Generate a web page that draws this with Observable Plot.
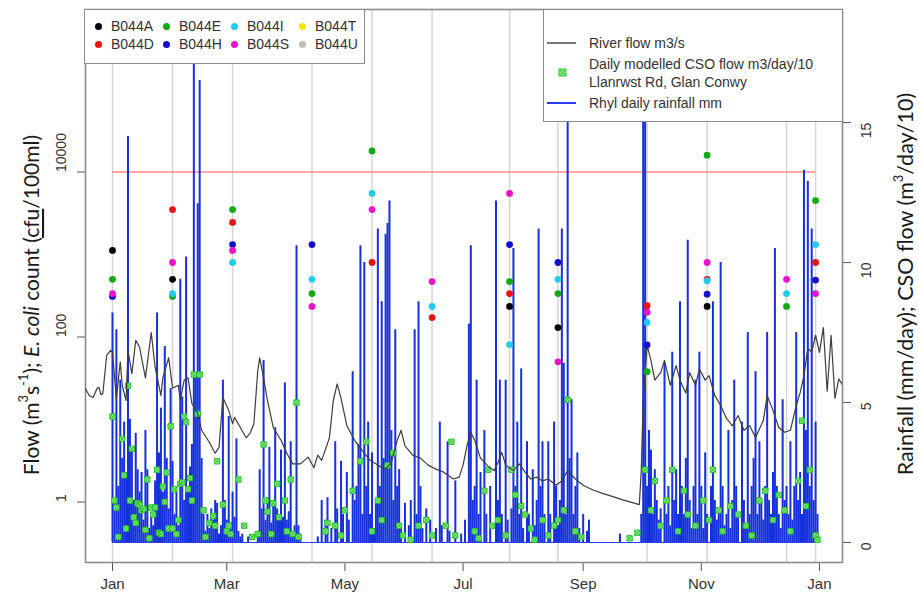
<!DOCTYPE html>
<html><head><meta charset="utf-8">
<script src="https://cdn.jsdelivr.net/npm/d3@7"></script>
<script src="https://cdn.jsdelivr.net/npm/@observablehq/plot@0.6"></script>
<style>
body{margin:0;background:#fff;}
#chart{position:relative;width:919px;height:600px;overflow:hidden;font-family:"Liberation Sans",Arial,sans-serif;}
#chart > svg{position:absolute;left:0;top:0;}
.legend{position:absolute;background:#fff;border:1.5px solid #8c8c8c;box-sizing:border-box;font-size:14px;color:#333;}
.legend .it{position:absolute;white-space:nowrap;line-height:16px;}
.legend .dot{position:absolute;width:7px;height:7px;border-radius:50%;}
</style></head><body><div id="chart"></div>
<script>
// ---------- data (day offsets from 1 Jan of the year) ----------
const YEAR = 2015;
const sites = ["B044A","B044D","B044E","B044H","B044I","B044S","B044T","B044U"];
const siteColors = ["#000000","#ee1111","#11aa11","#1111cc","#22ccee","#ee11cc","#f2e600","#bdbdbd"];
const sampleDays = [0, 31, 62, 103, 134, 165, 205, 230, 276, 307, 348, 363];
const B044A = [1120, 500, null, null, null, null, 235, 130, null, 235, null, null];
const B044D = [null, 3500, 2450, null, 800, 172, 336, null, 240, 500, null, 800];
const B044E = [500, 310, 3500, 336, 18000, null, 470, 336, 38, 16000, 235, 4500];
const B044H = [310, null, 1320, 1320, null, null, 1320, 800, 80, 330, null, 490];
const B044I = [null, 336, 800, 500, 5500, 235, 81, 500, 150, 480, 336, 1320];
const B044S = [336, 800, 1120, 235, 3500, 470, 5500, 50, 200, 800, 500, 336];
const B044T = [null, null, null, null, null, null, null, null, null, null, null, null];
const B044U = [null, null, null, null, null, null, null, null, null, null, null, null];
const ecoliLimit = 10000;

const flowDay = [-14,-12,-10,-8,-7,-6,-5,-3,-1,0,2,4,5,7,8,10,12,14,17,20,22,25,26,29,31,34,35,37,39,41,44,46,50,53,55,57,60,62,63,66,69,71,73,75,76,78,80,83,87,90,93,97,101,104,106,108,112,
 114,116,118,121,125,129,133,137,141,144,147,149,151,155,159,163,167,171,176,179,181,183,185,187,190,194,197,199,201,203,207,210,213,216,219,222,225,229,232,235,239,243,248,253,258,263,268,272,273,274,276,278,280,283,285,288,291,293,296,298,301,303,306,308,311,314,317,320,323,326,329,332,336,338,341,344,347,350,353,355,357,359,361,363,365,367,369,371,373,375,377];
const flowValue = [23.8,19.5,18.5,23.8,24.5,20,20.5,60,69,65,18,50,26,17,69,36,91,75,32,113,43,19.5,32,56,24,26,17,30,32,15.6,11.8,7.4,5.3,3.9,4.6,18.5,12.9,8.9,10.6,8.0,6.0,6.8,8.9,39,56,32,17,8.0,5.6,3.9,2.9,2.9,3.5,2.6,3.7,3.2,6.0,
 17,27,18,8.4,5.6,4.2,3.2,2.8,2.5,3.0,5.6,7.4,4.8,3.7,3.4,2.8,2.5,2.3,1.9,2.0,2.8,4.8,7.0,5.6,3.4,2.7,2.4,3.0,4.0,2.8,2.4,2.9,2.3,1.9,2.0,1.8,1.9,1.6,1.8,2.4,1.9,1.6,1.4,1.27,1.17,1.07,0.99,0.93,2.4,17,79,52,30,37,52,26,45,30,21,37,26,41,30,34,19.5,14.8,10.3,8.4,11.2,7.4,8.4,6.0,9.7,19.5,12.9,8.0,7.0,7.4,14.8,21,34,73,65,105,65,130,22,105,18,31,26];

const rainDay = [0,1,2,3,4,5,6,7,8,9,10,11,12,13,14,15,16,17,18,19,20,21,22,23,24,25,26,27,28,29,30,31,32,33,34,35,36,37,38,39,40,41,42,43,44,45,46,47,48,49,50,51,52,53,54,55,56,57,58,59,60,61,62,63,64,65,66,67,70,75,76,77,78,79,80,81,82,83,84,85,86,87,88,89,90,91,92,93,94,95,96,97,106,108,110,111,113,
 115,116,118,119,121,122,124,125,126,127,128,129,130,131,132,133,134,135,136,137,138,139,140,141,142,143,144,145,146,147,148,149,151,153,154,156,157,158,159,160,162,164,167,169,170,173,174,177,180,182,184,185,186,187,188,189,190,192,193,195,198,199,200,201,203,204,206,207,208,209,210,211,212,214,215,217,218,219,220,221,222,223,225,226,228,229,230,231,232,233,234,235,236,237,238,239,240,241,243,245,246,262,
 273,274,275,276,277,278,279,280,281,282,283,285,286,287,288,289,290,291,292,293,294,295,296,297,298,299,300,301,302,303,304,305,306,307,309,310,311,312,313,314,315,316,317,318,319,320,321,322,323,325,326,327,328,329,330,331,332,333,334,335,336,337,338,339,340,341,342,343,344,345,346,347,348,349,350,351,352,353,354,355,356,357,358,359,360,361,362,363,364];
const rainMm = [8.2,1.5,7.6,2.0,5.8,3.0,4.3,2.5,14.5,4.4,3.4,1.5,3.9,2.6,1.8,2.5,0.8,4.0,2.6,0.5,1.0,0.6,2.2,8.2,3.2,4.8,1.8,7.0,3.0,1.2,5.5,2.9,1.0,1.8,0.6,9.4,5.2,1.5,10.2,2.0,2.7,3.5,17.1,6.0,12.1,16.5,3.0,1.0,0.4,1.0,0.5,1.2,0.8,1.5,1.4,0.3,0.6,5.8,1.5,0.8,4.5,0.7,1.8,0.9,3.7,0.4,0.2,0.3,0.2,0.4,2.6,1.2,6.5,0.8,1.6,3.4,0.7,1.5,4.1,1.2,1.0,3.3,0.9,5.7,0.8,1.1,3.6,0.3,0.6,10.6,0.6,0.3,0.2,1.5,0.8,1.6,0.5,
 3.6,1.2,2.9,1.0,2.5,0.8,6.1,1.5,2.0,3.5,10.6,1.0,10.0,2.0,4.3,1.0,3.2,0.5,1.5,11.2,2.0,8.6,3.0,11.0,11.4,12.2,4.0,1.5,7.6,2.0,2.6,0.5,1.4,0.6,1.5,7.6,1.0,8.6,2.0,0.5,1.2,0.8,0.5,4.3,0.6,3.6,0.4,2.2,0.3,0.8,7.8,10.6,1.5,2.0,5.8,1.0,2.5,4.0,1.0,2.0,12.2,1.5,5.8,1.0,5.8,0.8,1.2,10.5,2.0,4.3,1.0,6.2,0.5,3.6,1.0,2.6,0.6,1.5,11.2,2.0,3.6,1.0,3.6,1.0,4.3,2.0,0.6,1.5,11.2,6.4,1.0,25,3.0,5.1,1.0,2.0,3.2,0.5,1.0,0.4,0.8,0.3,
 1.0,25,16,2.0,4.0,3.3,1.0,2.6,1.5,0.8,1.2,6.4,1.0,2.0,0.6,6.8,1.5,2.6,1.0,8.6,2.0,1.0,3.0,10.8,1.5,0.5,2.0,5.8,1.0,6.8,2.0,0.5,3.2,1.0,2.0,8.6,1.5,0.8,1.2,10.0,2.0,0.6,1.0,4.0,0.5,1.5,5.8,2.0,1.0,4.3,1.5,0.5,7.5,1.0,2.0,3.0,6.1,1.0,3.6,1.5,0.8,2.0,7.5,1.5,1.0,2.5,10.5,2.0,1.0,0.5,5.1,1.5,2.0,1.0,3.6,0.8,2.0,7.5,1.5,2.5,1.0,13.3,4.0,12.9,2.0,11.2,1.5,4.3,1.0];

const csoDay = [0,1,2,3,5,6,7,8,9,10,11,12,13,14,15,16,17,18,19,20,21,22,23,24,25,26,27,28,29,30,31,32,33,34,35,36,37,38,39,40,41,42,44,45,47,48,50,52,53,54,57,59,60,61,65,68,72,75,78,79,80,82,83,85,86,89,90,92,93,95,96,110,111,
 115,118,120,124,128,131,134,137,139,142,145,148,150,154,158,162,165,172,175,177,187,189,192,194,196,199,203,206,208,211,213,216,218,222,225,228,230,233,235,239,242,267,271,275,278,280,283,286,289,292,295,297,301,305,308,310,313,315,319,323,327,330,334,337,341,344,347,350,354,356,358,360,363,364];
const csoValue = [4.5,1.5,1.25,0.2,3.7,2.4,0.5,5.6,1.5,3.35,0.9,0.7,1.4,1.35,1.15,1.2,0.45,2.25,0.15,1.25,1.0,1.25,2.6,0.35,0.3,2.0,1.45,2.5,0.5,4.15,0.5,1.9,0.3,0.8,2.1,2.15,4.5,4.3,1.9,2.3,1.5,6.0,4.6,6.0,1.15,0.2,0.7,0.95,0.6,2.9,1.35,0.4,0.6,0.3,2.25,0.6,0.2,0.3,3.5,1.5,1.1,0.3,1.4,2.1,0.9,1.5,0.4,2.25,0.3,5.0,0.2,0.4,0.7,
 0.6,0.25,1.15,1.85,2.9,3.6,0.4,1.5,0.8,2.75,3.2,0.6,0.25,0.1,0.6,0.8,0.25,0.6,3.6,0.25,0.4,0.15,1.85,2.6,0.6,0.8,0.25,2.6,1.7,1.3,1.0,0.5,0.1,0.8,0.25,0.6,0.8,1.15,5.1,0.4,0.2,0.15,0.35,2.6,1.15,2.2,0.6,1.5,2.6,0.4,1.85,1.0,0.6,1.5,0.8,2.6,1.15,0.4,1.3,1.0,0.6,0.25,1.5,1.85,0.8,1.7,1.15,0.4,2.2,4.35,1.3,2.6,0.25,0.1];

const xTickDays = [0, 59, 120, 181, 243, 304, 365];
const leftTicks = [1, 100, 10000];
const rightTicks = [0, 5, 10, 15];

// ---------- build tables ----------
const t0 = Date.UTC(YEAR, 0, 1);
const toDate = d => new Date(t0 + d * 864e5);
const siteValues = [B044A, B044D, B044E, B044H, B044I, B044S, B044T, B044U];
const samples = [];
siteValues.forEach((vals, s) => vals.forEach((v, i) => { if (v != null) samples.push({date: toDate(sampleDays[i]), value: v, site: sites[s]}); }));
const flow = flowDay.map((d, i) => ({date: toDate(d), value: flowValue[i]}));
const rain = rainDay.map((d, i) => ({date: toDate(d), value: rainMm[i]}));
const cso = csoDay.map((d, i) => ({date: toDate(d), value: csoValue[i]}));
const sampleDates = sampleDays.map(toDate);
const first = sampleDates[0], last = sampleDates[sampleDates.length - 1];

const W = 919, H = 600, ML = 85, MR = 77, MT = 9, MB = 38;
const xDomain = [toDate(-13.94), toDate(376.9)];
const logDomain = [0.1848, 932600];
const linDomain = [-0.714, 19.04];
const base = {width: W, height: H, marginLeft: ML, marginRight: MR, marginTop: MT, marginBottom: MB,
  style: {background: "none", fontFamily: "Liberation Sans, Arial, sans-serif", fontSize: "14px", color: "#333", overflow: "visible"}};
const colorScale = {domain: sites, range: siteColors};

const layer1 = Plot.plot({...base, x: {type: "utc", domain: xDomain}, y: {type: "log", domain: logDomain}, color: colorScale,
  marks: [
    Plot.ruleX(sampleDates, {stroke: "#d6d6d6", strokeWidth: 1.5}),
    Plot.ruleY([{y: ecoliLimit, x1: first, x2: last}], {y: "y", x1: "x1", x2: "x2", stroke: "#ff6b6b", strokeOpacity: 0.6, strokeWidth: 2.2}),
    Plot.axisY({ticks: leftTicks, tickSize: 8, tickFormat: () => "", stroke: "#555", label: null}),
    Plot.text(leftTicks, {y: d => d, text: d => String(d), frameAnchor: "left", dx: -24, rotate: -90, fontSize: 14, fill: "#333"}),
    Plot.axisX({ticks: xTickDays.map(toDate), tickFormat: d3.utcFormat("%b"), tickSize: 9, tickPadding: 7, fontSize: 15, stroke: "#555", fill: "#333", label: null}),
    Plot.frame({stroke: "#8c8c8c", strokeWidth: 1.6})
  ]});

const layer2 = Plot.plot({...base, x: {type: "utc", domain: xDomain, axis: null}, y: {domain: linDomain, axis: null},
  marks: [
    Plot.ruleY([{y: 0, x1: toDate(0), x2: toDate(363)}], {y: "y", x1: "x1", x2: "x2", stroke: "#2a3cf0", strokeWidth: 1}),
    Plot.ruleX(rain, {x: "date", y1: 0, y2: "value", stroke: "#1530dd", strokeWidth: 2, clip: true}),
    Plot.axisY({anchor: "right", ticks: rightTicks, tickSize: 8, tickFormat: () => "", stroke: "#555", label: null}),
    Plot.text(rightTicks, {y: d => d, text: d => String(d), frameAnchor: "right", dx: 24, rotate: -90, fontSize: 14, fill: "#333"}),
    Plot.dot(cso, {x: "date", y: "value", symbol: "square", r: 3, fill: "#8cf08c", stroke: "#22c322", strokeWidth: 1}),
    Plot.dot(cso, {x: "date", y: "value", symbol: "times", r: 2.2, stroke: "#22b322", strokeWidth: 0.8})
  ]});

const layer3 = Plot.plot({...base, x: {type: "utc", domain: xDomain, axis: null}, y: {type: "log", domain: logDomain, axis: null}, color: colorScale,
  marks: [
    Plot.line(flow, {x: "date", y: "value", stroke: "#3d3d3d", strokeWidth: 1.2, clip: true}),
    Plot.dot(samples, {x: "date", y: "value", fill: "site", r: 3.4})
  ]});

const chart = document.getElementById("chart");
[layer1, layer2, layer3].forEach(s => chart.appendChild(s));

// axis titles
const ns = "http://www.w3.org/2000/svg";
const tsvg = document.createElementNS(ns, "svg");
tsvg.setAttribute("width", W); tsvg.setAttribute("height", H);
tsvg.innerHTML =
  `<text transform="translate(30,305) rotate(-90)" text-anchor="middle" dominant-baseline="central" font-family="Lato, sans-serif" font-size="21" fill="#1a1a1a">Flow (m<tspan dy="-7" font-size="13">3</tspan><tspan dy="7">s</tspan><tspan dy="-7" font-size="13">-1</tspan><tspan dy="7">); </tspan><tspan font-style="italic">E. coli</tspan> count (<tspan style="text-decoration: underline wavy #e05050">cfu</tspan>/100ml)</text>` +
  `<text transform="translate(905,284) rotate(-90)" text-anchor="middle" dominant-baseline="central" font-family="Lato, sans-serif" font-size="21.5" fill="#1a1a1a">Rainfall (mm/day); CSO flow (m<tspan dy="-7" font-size="13">3</tspan><tspan dy="7">/day/10)</tspan></text>`;
chart.appendChild(tsvg);

// legends
const l1 = document.createElement("div");
l1.className = "legend";
Object.assign(l1.style, {left: "84px", top: "9px", width: "281px", height: "55px"});
sites.forEach((s, i) => {
  const col = Math.floor(i / 2), row = i % 2;
  const dot = document.createElement("div");
  dot.className = "dot";
  Object.assign(dot.style, {left: (10 + col * 68) + "px", top: (13 + row * 18) + "px", background: siteColors[i]});
  const tx = document.createElement("div");
  tx.className = "it";
  tx.textContent = s;
  Object.assign(tx.style, {left: (26 + col * 68) + "px", top: (8 + row * 18) + "px"});
  l1.appendChild(dot); l1.appendChild(tx);
});
chart.appendChild(l1);

const l2 = document.createElement("div");
l2.className = "legend";
Object.assign(l2.style, {left: "543px", top: "9px", width: "300px", height: "113px"});
l2.innerHTML = `
  <div style="position:absolute;left:3px;top:32px;width:29px;border-top:2px solid #777"></div>
  <div class="it" style="left:45px;top:25px">River flow m3/s</div>
  <svg style="position:absolute;left:14px;top:58px" width="9" height="9"><rect x="1" y="1" width="7" height="7" fill="#8cf08c" stroke="#22c322"/><path d="M2,2L7,7M7,2L2,7" stroke="#22b322" stroke-width="0.8"/></svg>
  <div class="it" style="left:45px;top:46px">Daily modelled CSO flow m3/day/10</div>
  <div class="it" style="left:45px;top:64px">Llanrwst Rd, Glan Conwy</div>
  <div style="position:absolute;left:3px;top:92px;width:29px;border-top:2px solid #2a3cf0"></div>
  <div class="it" style="left:45px;top:85px">Rhyl daily rainfall mm</div>`;
chart.appendChild(l2);
</script></body></html>
